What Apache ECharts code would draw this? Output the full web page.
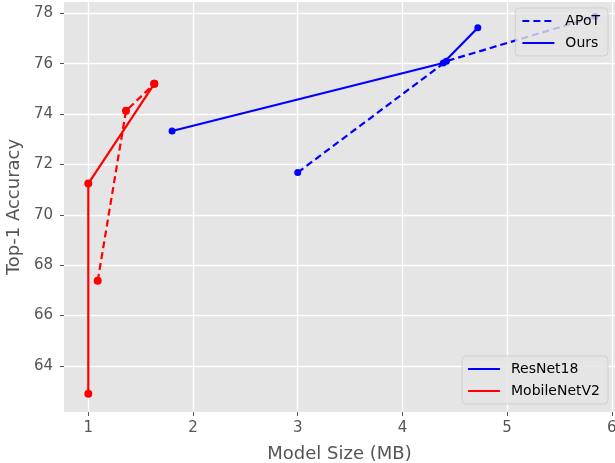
<!DOCTYPE html>
<html>
<head>
<meta charset="utf-8">
<script src="https://cdn.jsdelivr.net/npm/echarts@6/dist/echarts.min.js"></script>
<style>
  html, body { margin: 0; padding: 0; background: #fff; }
  #chartdiv { width: 615px; height: 463px; }
</style>
</head>
<body>
<div id="chartdiv"></div>
<script>
// tick values
var xTicks = [1, 2, 3, 4, 5, 6];
var yTicks = [64, 66, 68, 70, 72, 74, 76, 78];

// [model size (MB), top-1 accuracy]
var resnetOurs = [[1.80, 73.33], [4.39, 76.03], [4.72, 77.43]];
var resnetApot = [[3.00, 71.68], [4.42, 76.10], [5.84, 77.87]];
var mobileOurs = [[1.00, 62.89], [1.00, 71.24], [1.63, 75.20]];
var mobileApot = [[1.09, 67.38], [1.36, 74.13], [1.63, 75.20]];

var BLUE = '#0000FF';
var RED = '#FF0000';
var FONT = 'DejaVu Sans';
var DASH = [7, 4];

function dataLine(name, data, color, dashed, size) {
    return {
        name: name,
        type: 'line',
        data: data,
        symbol: 'circle',
        symbolSize: size,
        color: color,
        lineStyle: { width: 2.2, type: dashed ? DASH : 'solid' },
        z: 2
    };
}

// empty series only used to feed the two legends
function legendLine(name, color, dashed) {
    return {
        name: name,
        type: 'line',
        data: [],
        symbol: 'none',
        color: color,
        lineStyle: { width: 2.2, type: dashed ? DASH : 'solid' }
    };
}

var legendBox = {
    orient: 'vertical',
    backgroundColor: 'rgba(229,229,229,0.8)',
    borderColor: 'rgba(204,204,204,0.8)',
    borderWidth: 1,
    borderRadius: 4,
    itemWidth: 32,
    itemHeight: 14,
    itemGap: 8,
    itemStyle: { opacity: 0, borderWidth: 0 },
    lineStyle: { opacity: 1 },
    textStyle: { fontFamily: FONT, fontSize: 14, color: '#000', padding: [0, 0, 0, 6] }
};

var options = {
    animation: false,
    backgroundColor: '#ffffff',
    grid: {
        left: 64,
        right: 0,
        top: 2,
        bottom: 51,
        outerBoundsMode: 'none',
        containLabel: false,
        show: true,
        backgroundColor: '#E5E5E5',
        borderWidth: 0
    },
    legend: [
        Object.assign({}, legendBox, {
            data: ['APoT', 'Ours'],
            right: 7,
            top: 8,
            padding: [6, 8, 6, 6]
        }),
        Object.assign({}, legendBox, {
            data: ['ResNet18', 'MobileNetV2'],
            right: 7,
            bottom: 59,
            padding: [6, 8, 6, 5]
        })
    ],
    xAxis: {
        type: 'value',
        min: 0.768,
        max: 6.03,
        name: 'Model Size (MB)',
        nameLocation: 'middle',
        nameGap: 33,
        nameTextStyle: { fontFamily: FONT, fontSize: 18, color: '#555555' },
        axisLine: { show: false },
        axisTick: { show: true, length: 4, lineStyle: { color: '#555555' }, customValues: xTicks },
        axisLabel: { fontFamily: FONT, fontSize: 15, color: '#555555', margin: 9, customValues: xTicks },
        splitLine: { show: true, lineStyle: { color: '#ffffff', width: 1.3 } }
    },
    yAxis: {
        type: 'value',
        min: 62.17,
        max: 78.45,
        name: 'Top-1 Accuracy',
        nameLocation: 'middle',
        nameGap: 34,
        nameTextStyle: { fontFamily: FONT, fontSize: 18, color: '#555555' },
        axisLine: { show: false },
        axisTick: { show: true, length: 4, lineStyle: { color: '#555555' }, customValues: yTicks },
        axisLabel: { fontFamily: FONT, fontSize: 15, color: '#555555', margin: 11, customValues: yTicks },
        splitLine: { show: true, lineStyle: { color: '#ffffff', width: 1.3 } }
    },
    series: [
        dataLine('ResNet18 APoT', resnetApot, BLUE, true, 7),
        dataLine('ResNet18 Ours', resnetOurs, BLUE, false, 7),
        dataLine('MobileNetV2 APoT', mobileApot, RED, true, 8),
        dataLine('MobileNetV2 Ours', mobileOurs, RED, false, 8),
        legendLine('APoT', BLUE, true),
        legendLine('Ours', BLUE, false),
        legendLine('ResNet18', BLUE, false),
        legendLine('MobileNetV2', RED, false)
    ]
};

var plot = echarts.init(document.getElementById('chartdiv'));
plot.setOption(options);
</script>
</body>
</html>
